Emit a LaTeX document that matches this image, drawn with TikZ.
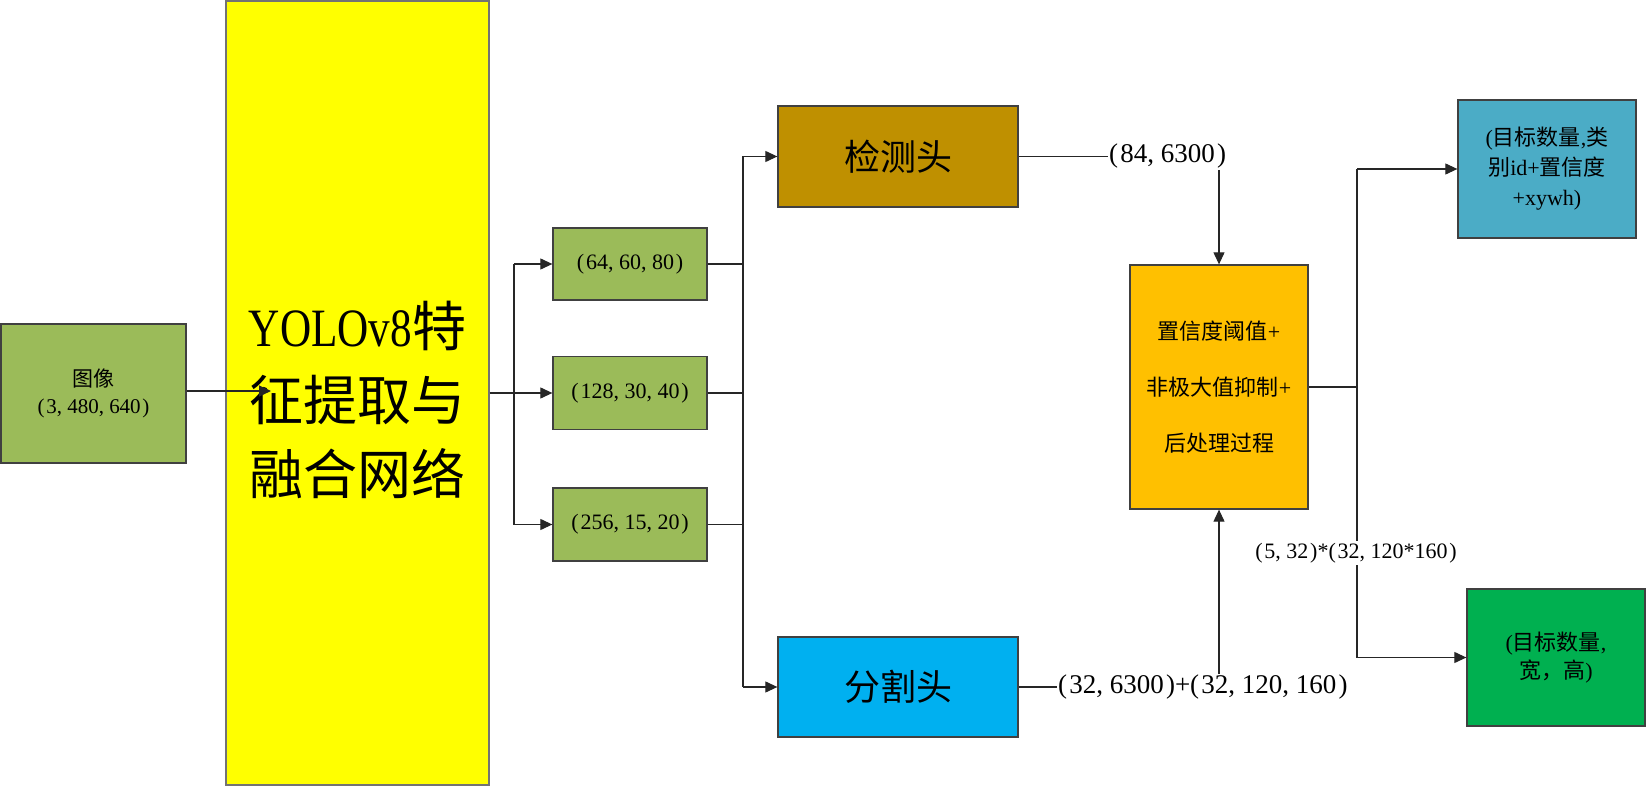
\documentclass[tikz,border=0pt]{standalone}
\usepackage{fontspec}
\setmainfont{Liberation Serif}
\newfontfamily\zh{Noto Sans CJK SC}
\newfontfamily\yolofont[FakeStretch=0.8]{Liberation Serif}
\usetikzlibrary{arrows.meta}
\definecolor{cGreen}{HTML}{9BBB59}
\definecolor{cYellow}{HTML}{FFFF00}
\definecolor{cGold}{HTML}{BF9000}
\definecolor{cSky}{HTML}{00B0F0}
\definecolor{cOrange}{HTML}{FFC000}
\definecolor{cTeal}{HTML}{4BACC6}
\definecolor{cDeep}{HTML}{00B050}
\newcommand\cma{,\kern0.25em}
\newcommand\lp{(\kern0.08em}
\newcommand\rp{\kern0.08em)}
\begin{document}
\begin{tikzpicture}[x=1pt,y=-1pt,
  box/.style={draw=black!75, line width=1.3pt, inner sep=0pt, align=center},
  arr/.style={draw=black!85, line width=1.1pt, -{Triangle[length=12pt,width=11pt]}},
  ln/.style={draw=black!85, line width=1.1pt},
  lab/.style={inner sep=1pt}]
\useasboundingbox (0,0) rectangle (1647,786);

\node[box, fill=cGreen, minimum width=185pt, minimum height=139pt,
  font=\fontsize{21}{27}\selectfont] (img) at (93.5,393.5)
  {{\zh 图像}\\\lp 3\cma 480\cma 640\rp};
\node[box, draw=black!55, fill=cYellow, minimum width=263pt, minimum height=784pt] (yolo) at (357.5,393) {};
\node[align=center, inner sep=0pt, font=\fontsize{54}{74}\selectfont] (yolotxt) at (357.5,400)
  {{\yolofont YOLOv8}{\zh 特}\\{\zh 征提取与}\\{\zh 融合网络}};
\coordinate (yin) at (271,391);
\draw[arr] (img.east |- yin) -- (yin);

\node[box, fill=cGreen, minimum width=154pt, minimum height=72pt,
  font=\fontsize{22}{27}\selectfont] (g1) at (630,264) {\lp 64\cma 60\cma 80\rp};
\node[box, fill=cGreen, minimum width=154pt, minimum height=73pt,
  font=\fontsize{22}{27}\selectfont] (g2) at (630,393) {\lp 128\cma 30\cma 40\rp};
\node[box, fill=cGreen, minimum width=154pt, minimum height=73pt,
  font=\fontsize{22}{27}\selectfont] (g3) at (630,524.5) {\lp 256\cma 15\cma 20\rp};

\coordinate (busA) at (514,393);
\draw[arr] (yolo.east) -- (g2.west);
\draw[ln] (busA |- g1.west) -- (busA |- g3.west);
\draw[arr] (busA |- g1.west) -- (g1.west);
\draw[arr] (busA |- g3.west) -- (g3.west);

\node[box, fill=cGold, minimum width=240pt, minimum height=101pt,
  font=\fontsize{36}{40}\selectfont] (det) at (898,156.5) {\zh 检测头};
\node[box, fill=cSky, minimum width=240pt, minimum height=100pt,
  font=\fontsize{36}{40}\selectfont] (seg) at (898,687) {\zh 分割头};

\coordinate (busB) at (743,393);
\draw[ln] (g1.east) -- (busB |- g1.east);
\draw[ln] (g2.east) -- (busB |- g2.east);
\draw[ln] (g3.east) -- (busB |- g3.east);
\draw[ln] (busB |- det.west) -- (busB |- seg.west);
\draw[arr] (busB |- det.west) -- (det.west);
\draw[arr] (busB |- seg.west) -- (seg.west);

\node[box, fill=cOrange, minimum width=178pt, minimum height=244pt,
  font=\fontsize{22}{56}\selectfont] (nms) at (1219,387)
  {{\zh 置信度阈值}+\\{\zh 非极大值抑制}+\\{\zh 后处理过程}};

\node[lab, anchor=west, font=\fontsize{27}{30}\selectfont] (lab84) at (1108,156.5) {\lp 84\cma 6300\rp};
\draw[ln] (det.east) -- (lab84.west);
\draw[arr] (nms.north |- lab84.south) -- (nms.north);

\node[lab, anchor=west, font=\fontsize{27}{30}\selectfont] (labseg) at (1057,687) {\lp 32\cma 6300\rp+\lp 32\cma 120\cma 160\rp};
\draw[ln] (seg.east) -- (labseg.west);
\draw[arr] (nms.south |- labseg.north) -- (nms.south);

\node[box, fill=cTeal, minimum width=178pt, minimum height=138pt,
  font=\fontsize{22}{30}\selectfont] (res1) at (1547,169)
  {({\zh 目标数量},{\zh 类}\\{\zh 别}id+{\zh 置信度}\\+xywh)};
\node[box, fill=cDeep, minimum width=178pt, minimum height=137pt,
  font=\fontsize{22}{28}\selectfont] (res2) at (1556,657.5)
  {({\zh 目标数量},\\{\zh 宽，高})};

\coordinate (busC) at (1357,387);
\draw[ln] (nms.east) -- (busC |- nms.east);
\draw[ln] (busC |- res1.west) -- (busC |- res2.west);
\draw[arr] (busC |- res1.west) -- (res1.west);
\draw[arr] (busC |- res2.west) -- (res2.west);
\node[fill=white, inner sep=2pt, font=\fontsize{22}{26}\selectfont] (lab532) at (1356,553) {\lp 5\cma 32\rp*\lp 32\cma 120*160\rp};
\end{tikzpicture}
\end{document}
